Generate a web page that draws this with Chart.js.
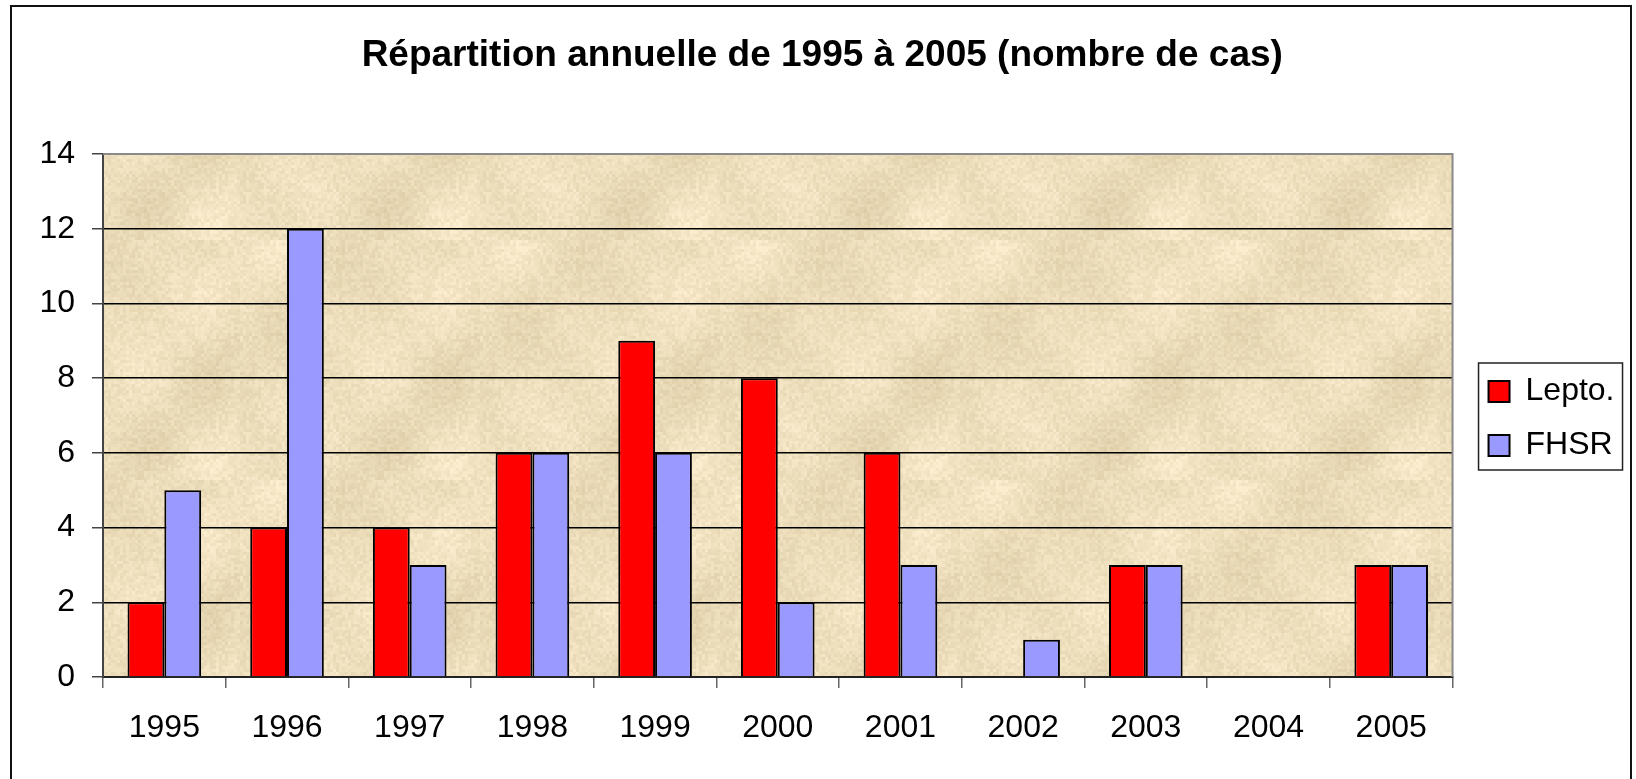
<!DOCTYPE html>
<html lang="fr">
<head>
<meta charset="utf-8">
<title>Répartition annuelle de 1995 à 2005</title>
<script src="https://cdn.jsdelivr.net/npm/chart.js@4.4.1/dist/chart.umd.min.js"></script>
<style>
    html, body { margin: 0; padding: 0; background: #fff; overflow: hidden; }
    #wrap { position: relative; width: 1636px; height: 779px; }
    #frame { position: absolute; left: 10px; top: 5px; width: 1622px; height: 900px; border: 2px solid #111; box-sizing: border-box; }
    #myChart { position: absolute; left: 0; top: 0; }
</style>
</head>
<body>
<div id="wrap">
    <div id="frame"></div>
    <canvas id="myChart" width="1636" height="779"></canvas>
</div>
<script>
"use strict";

const years = ['1995', '1996', '1997', '1998', '1999', '2000', '2001', '2002', '2003', '2004', '2005'];
const lepto = [2, 4, 4, 6, 9, 8, 6, 0, 3, 0, 3];
const fhsr = [5, 12, 3, 6, 6, 2, 3, 1, 3, 0, 3];
const seriesNames = ['Lepto.', 'FHSR'];
const yTicks = [0, 2, 4, 6, 8, 10, 12, 14];

const FONT = "'Liberation Sans', Arial, sans-serif";

// parchment-ish texture, no random: a small hash gives the speckle
function makeParchment(ctx) {
    const size = 240;
    const c = document.createElement('canvas');
    c.width = size;
    c.height = size;
    const g = c.getContext('2d');
    for (let y = 0; y < size; y += 3) {
        for (let x = 0; x < size; x += 3) {
            let h = Math.sin(x * 12.9898 + y * 78.233) * 43758.5453;
            h = h - Math.floor(h);
            const blot = Math.sin(x / 19) * Math.cos(y / 23) + Math.sin((x + y) / 31);
            const d = (h - 0.5) * 14 + blot * 5;
            const r = Math.round(237 + d);
            const gg = Math.round(222 + d * 1.1);
            const b = Math.round(188 + d * 1.3);
            g.fillStyle = 'rgb(' + r + ',' + gg + ',' + b + ')';
            g.fillRect(x, y, 3, 3);
        }
    }
    return ctx.createPattern(c, 'repeat');
}

// plot area fill + grey border
const plotBack = {
    id: 'plotBack',
    beforeDraw(chart) {
        const a = chart.chartArea;
        const ctx = chart.ctx;
        if (!chart.$parch) {
            chart.$parch = makeParchment(ctx);
        }
        ctx.save();
        ctx.fillStyle = chart.$parch;
        ctx.fillRect(a.left, a.top, a.right - a.left, a.bottom - a.top);
        ctx.restore();
    },
    afterDraw(chart) {
        const a = chart.chartArea;
        const ctx = chart.ctx;
        ctx.save();
        ctx.strokeStyle = '#8a8a8a';
        ctx.lineWidth = 2;
        ctx.beginPath();
        ctx.moveTo(a.left, a.top);
        ctx.lineTo(a.right, a.top);
        ctx.lineTo(a.right, a.bottom);
        ctx.stroke();

        // box round the legend
        const hb = chart.legend.legendHitBoxes;
        if (hb && hb.length) {
            const first = hb[0];
            const boxTop = first.top + (first.height - 21) / 2;
            ctx.strokeStyle = '#222';
            ctx.lineWidth = 1.5;
            ctx.strokeRect(first.left - 10, boxTop - 18, 144, 107);
        }
        ctx.restore();
    }
};

// nudge the legend and the title a little
const shifts = {
    id: 'shifts',
    afterLayout(chart) {
        chart.legend.left += 14;
        chart.legend.right += 14;
        chart.legend.top += 3;
        chart.legend.bottom += 3;
        chart.titleBlock.left += 17;
        chart.titleBlock.right += 17;
    }
};

const ctx = document.getElementById('myChart').getContext('2d');

new Chart(ctx, {
    type: 'bar',
    data: {
        labels: years,
        datasets: [{
            label: seriesNames[0],
            data: lepto,
            backgroundColor: '#ff0000',
            borderColor: '#000',
            borderWidth: 2,
            borderSkipped: 'start'
        }, {
            label: seriesNames[1],
            data: fhsr,
            backgroundColor: '#9999ff',
            borderColor: '#000',
            borderWidth: 2,
            borderSkipped: 'start'
        }]
    },
    options: {
        responsive: false,
        animation: false,
        devicePixelRatio: 1,
        datasets: {
            bar: { categoryPercentage: 0.6, barPercentage: 1.0 }
        },
        layout: { padding: { left: 0, right: 25.5, top: 0, bottom: 0 } },
        plugins: {
            title: {
                display: true,
                text: 'Répartition annuelle de 1995 à 2005 (nombre de cas)',
                color: '#000',
                font: { family: FONT, size: 37, weight: 'bold' },
                padding: { top: 34, bottom: 75.6 }
            },
            legend: {
                position: 'right',
                fullSize: false,
                labels: {
                    color: '#000',
                    font: { family: FONT, size: 32 },
                    boxWidth: 21,
                    boxHeight: 21,
                    padding: 22
                }
            },
            tooltip: { enabled: false }
        },
        scales: {
            x: {
                grid: {
                    offset: true,
                    drawOnChartArea: false,
                    drawTicks: true,
                    tickLength: 11,
                    color: '#666',
                    lineWidth: 1.5
                },
                border: { color: '#222', width: 2 },
                ticks: {
                    color: '#000',
                    font: { family: FONT, size: 32 },
                    padding: 21,
                    maxRotation: 0
                },
                afterFit(scale) { scale.height = 102; }
            },
            y: {
                min: 0,
                max: 14,
                afterBuildTicks(scale) {
                    scale.ticks = yTicks.map(v => ({ value: v }));
                },
                grid: {
                    color: c => (c.tick && c.tick.value === 14 ? '#8a8a8a' : '#000'),
                    tickColor: '#444',
                    lineWidth: 1.5,
                    tickLength: 11
                },
                border: { color: '#444', width: 2 },
                ticks: {
                    color: '#000',
                    font: { family: FONT, size: 32 },
                    padding: 17
                },
                afterFit(scale) { scale.width = 103; }
            }
        }
    },
    plugins: [plotBack, shifts]
});
</script>
</body>
</html>
